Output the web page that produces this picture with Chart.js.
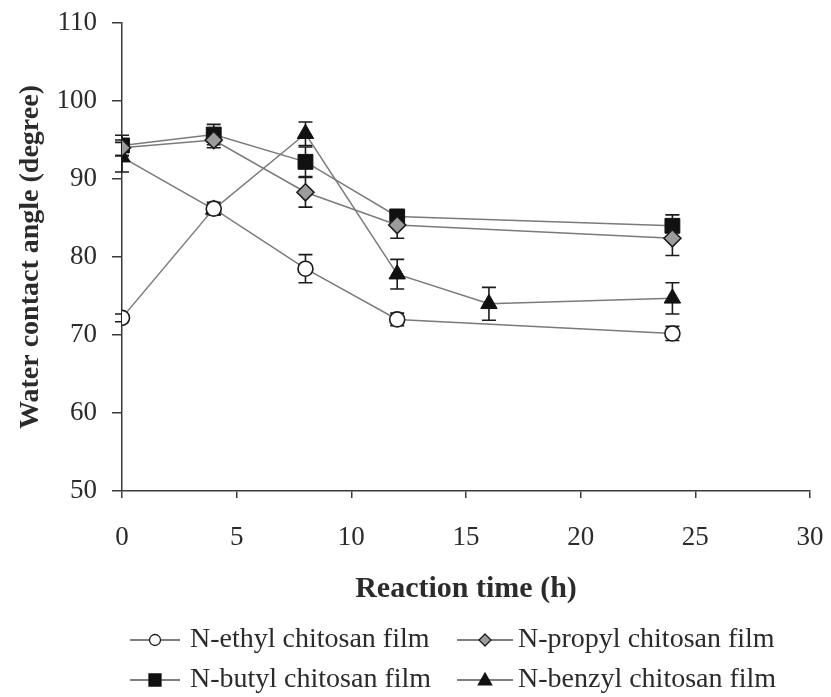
<!DOCTYPE html>
<html>
<head>
<meta charset="utf-8">
<script src="https://cdn.jsdelivr.net/npm/chart.js@4/dist/chart.umd.min.js"></script>
<style>
  html, body { margin: 0; padding: 0; background: #ffffff; }
  canvas { display: block; }
</style>
</head>
<body>
<canvas id="c" width="831" height="697"></canvas>
<script>
// ---- data ----
const timesMain = [0, 4, 8, 12, 24];
const timesBenzyl = [0, 4, 8, 12, 16, 24];

const ethylAngle = [72.2, 86.2, 78.5, 72.0, 70.2];
const ethylErr   = [0.5, 0.8, 1.8, 0.8, 0.9];

const propylAngle = [94.0, 95.0, 88.3, 84.1, 82.4];
const propylErr   = [1.0, 1.0, 1.9, 1.7, 2.2];

const butylAngle = [94.3, 95.7, 92.2, 85.2, 84.0];
const butylErr   = [1.3, 1.3, 1.9, 0.6, 1.4];

const benzylAngle = [92.8, 86.1, 95.8, 77.8, 74.0, 74.7];
const benzylErr   = [1.9, 0.7, 1.5, 1.9, 2.1, 2.0];

const seriesNames = ['N-ethyl chitosan film', 'N-propyl chitosan film', 'N-butyl chitosan film', 'N-benzyl chitosan film'];
const xTicks = [0, 5, 10, 15, 20, 25, 30];
const yTicks = [50, 60, 70, 80, 90, 100, 110];
const xTitle = 'Reaction time (h)';
const yTitle = 'Water contact angle (degree)';

function pts(xs, ys) { return xs.map((x, i) => ({ x: x, y: ys[i] })); }

const LINE = '#7a7a7a';
const INK = '#1c1c1c';
const TEXT = '#2b2b2b';
const SERIF = '"Liberation Serif", "DejaVu Serif", serif';

const datasets = [
  { label: seriesNames[0], data: pts(timesMain, ethylAngle), err: ethylErr,
    pointStyle: 'circle', pointRadius: 7.5, backgroundColor: '#ffffff', borderColor: LINE,
    pointBorderColor: INK, pointBackgroundColor: '#ffffff', pointBorderWidth: 1.6 },
  { label: seriesNames[1], data: pts(timesMain, propylAngle), err: propylErr,
    pointStyle: 'rectRot', pointRadius: 8.5, backgroundColor: '#9c9c9c', borderColor: LINE,
    pointBorderColor: INK, pointBackgroundColor: '#9c9c9c', pointBorderWidth: 1.6 },
  { label: seriesNames[2], data: pts(timesMain, butylAngle), err: butylErr,
    pointStyle: 'rect', pointRadius: 10.5, backgroundColor: '#111111', borderColor: LINE,
    pointBorderColor: '#111111', pointBackgroundColor: '#111111', pointBorderWidth: 1 },
  { label: seriesNames[3], data: pts(timesBenzyl, benzylAngle), err: benzylErr,
    pointStyle: 'triangle', pointRadius: 9.5, backgroundColor: '#111111', borderColor: LINE,
    pointBorderColor: '#111111', pointBackgroundColor: '#111111', pointBorderWidth: 1 }
];
datasets.forEach(d => { d.showLine = true; d.borderWidth = 1.5; d.tension = 0; d.fill = false; d.pointHoverRadius = d.pointRadius; });

// error bars drawn through the chart's own scales
const errorBars = {
  id: 'errorBars',
  beforeDatasetsDraw(chart) {
    const ctx = chart.ctx, xs = chart.scales.x, ys = chart.scales.y;
    ctx.save();
    ctx.strokeStyle = INK;
    ctx.lineWidth = 1.6;
    chart.data.datasets.forEach(ds => {
      ds.data.forEach((p, i) => {
        const e = ds.err[i];
        const px = xs.getPixelForValue(p.x);
        const top = ys.getPixelForValue(p.y + e);
        const bot = ys.getPixelForValue(p.y - e);
        ctx.beginPath();
        ctx.moveTo(px, top); ctx.lineTo(px, bot);
        ctx.moveTo(px - 7, top); ctx.lineTo(px + 7, top);
        ctx.moveTo(px - 7, bot); ctx.lineTo(px + 7, bot);
        ctx.stroke();
      });
    });
    ctx.restore();
  }
};

function drawMarker(ctx, style, x, y, r, fill, stroke) {
  ctx.beginPath();
  if (style === 'circle') {
    ctx.arc(x, y, r, 0, Math.PI * 2);
  } else if (style === 'rect') {
    ctx.rect(x - r, y - r, 2 * r, 2 * r);
  } else if (style === 'rectRot') {
    ctx.moveTo(x, y - r); ctx.lineTo(x + r, y); ctx.lineTo(x, y + r); ctx.lineTo(x - r, y); ctx.closePath();
  } else if (style === 'triangle') {
    ctx.moveTo(x, y - r); ctx.lineTo(x + r * 0.95, y + r * 0.7); ctx.lineTo(x - r * 0.95, y + r * 0.7); ctx.closePath();
  }
  ctx.fillStyle = fill; ctx.fill();
  ctx.strokeStyle = stroke; ctx.lineWidth = 1.3; ctx.stroke();
}

// custom two-column legend below the axis title
const legendLayout = [
  { x0: 130, x1: 180, tx: 190, y: 640, r: 5.5 },
  { x0: 457, x1: 513, tx: 518, y: 640, r: 6 },
  { x0: 130, x1: 180, tx: 190, y: 680, r: 6 },
  { x0: 457, x1: 513, tx: 518, y: 680, r: 7 }
];
const bottomLegend = {
  id: 'bottomLegend',
  afterDraw(chart) {
    const ctx = chart.ctx;
    ctx.save();
    chart.data.datasets.forEach((ds, i) => {
      const L = legendLayout[i];
      ctx.strokeStyle = '#555555';
      ctx.lineWidth = 1.5;
      ctx.beginPath(); ctx.moveTo(L.x0, L.y); ctx.lineTo(L.x1, L.y); ctx.stroke();
      drawMarker(ctx, ds.pointStyle, (L.x0 + L.x1) / 2, L.y, L.r, ds.pointBackgroundColor, ds.pointBorderColor);
      ctx.fillStyle = TEXT;
      ctx.font = '28px ' + SERIF;
      ctx.textBaseline = 'middle';
      ctx.textAlign = 'left';
      ctx.fillText(ds.label, L.tx, L.y);
    });
    ctx.restore();
  }
};

new Chart(document.getElementById('c'), {
  type: 'scatter',
  data: { datasets: datasets },
  plugins: [errorBars, bottomLegend],
  options: {
    responsive: false,
    animation: false,
    devicePixelRatio: 1,
    layout: { padding: { top: 23, right: 21, bottom: 90, left: 0 } },
    plugins: { legend: { display: false }, tooltip: { enabled: false } },
    scales: {
      x: {
        type: 'linear', min: 0, max: 30,
        afterBuildTicks(scale) { scale.ticks = xTicks.map(v => ({ value: v })); },
        afterFit(scale) { scale.height = 116; scale.paddingLeft = 0; scale.paddingRight = 0; },
        border: { display: true, color: '#3a3a3a', width: 1.5 },
        grid: { display: true, drawOnChartArea: false, drawTicks: true, tickLength: 7, color: '#3a3a3a', lineWidth: 1.5 },
        ticks: { padding: 24, color: TEXT, font: { family: SERIF, size: 27 }, maxRotation: 0 },
        title: { display: true, text: xTitle, color: TEXT, padding: { top: 2, bottom: 0 },
                 font: { family: SERIF, size: 30, weight: 'bold' } }
      },
      y: {
        type: 'linear', min: 50, max: 110,
        afterBuildTicks(scale) { scale.ticks = yTicks.map(v => ({ value: v })); },
        afterFit(scale) { scale.width = 122; scale.paddingTop = 0; scale.paddingBottom = 0; },
        border: { display: true, color: '#3a3a3a', width: 1.5 },
        grid: { display: true, drawOnChartArea: false, drawTicks: true, tickLength: 10, color: '#3a3a3a', lineWidth: 1.5 },
        ticks: { padding: 15, color: TEXT, font: { family: SERIF, size: 27 } },
        title: { display: true, text: yTitle, color: TEXT, padding: { top: 14, bottom: 0 },
                 font: { family: SERIF, size: 28, weight: 'bold' } }
      }
    }
  }
});
</script>
</body>
</html>
